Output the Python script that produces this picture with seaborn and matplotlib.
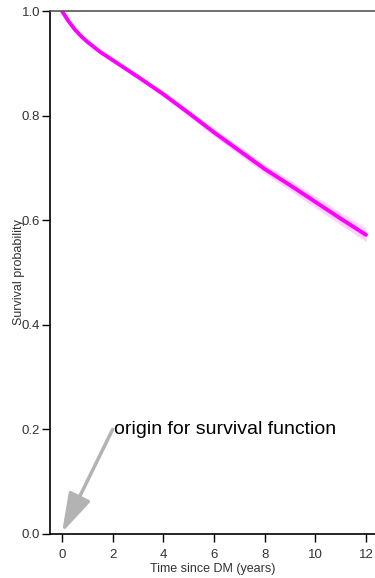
import numpy as np
import pandas as pd
import seaborn as sns
import matplotlib
matplotlib.use("Agg")
import matplotlib.pyplot as plt

# Estimated survival curve since diabetes diagnosis
time_years = [0, 0.25, 0.5, 0.75, 1, 1.5, 2, 3, 4, 5, 6, 7, 8, 9, 10, 11, 12]
survival = [1.0, 0.981, 0.965, 0.952, 0.941, 0.922, 0.906, 0.874, 0.841,
            0.805, 0.768, 0.733, 0.698, 0.667, 0.635, 0.603, 0.572]
ci_lower = [1.0, 0.980, 0.963, 0.950, 0.939, 0.919, 0.903, 0.870, 0.836,
            0.799, 0.761, 0.725, 0.689, 0.657, 0.624, 0.591, 0.559]
ci_upper = [1.0, 0.982, 0.967, 0.954, 0.943, 0.925, 0.909, 0.878, 0.846,
            0.811, 0.775, 0.741, 0.707, 0.677, 0.646, 0.615, 0.585]

x_ticks = [0, 2, 4, 6, 8, 10, 12]
y_ticks = [0.0, 0.2, 0.4, 0.6, 0.8, 1.0]

df = pd.DataFrame({"time": time_years, "surv": survival,
                   "lo": ci_lower, "hi": ci_upper})

sns.set_theme(style="ticks")
plt.rcParams["font.family"] = ["Liberation Sans", "DejaVu Sans"]

fig = plt.figure(figsize=(3.75, 5.78), dpi=100)
ax = fig.add_axes([50 / 375, 44 / 578, 325 / 375, 523 / 578])

ax.fill_between(df["time"], df["lo"], df["hi"], color="#ff00ff",
                alpha=0.18, linewidth=0)
sns.lineplot(data=df, x="time", y="surv", ax=ax, color="#ff00ff",
             linewidth=2.8, errorbar=None)

ax.set_xlim(-0.474, 12.355)
ax.set_ylim(0, 1)
ax.set_xticks(x_ticks)
ax.set_xticklabels([str(t) for t in x_ticks])
ax.set_yticks(y_ticks)
ax.set_yticklabels([f"{t:.1f}" for t in y_ticks])
ax.tick_params(axis="both", direction="out", length=6, width=1,
               labelsize=9.5, colors="black", pad=1)
ax.tick_params(axis="y", labelcolor="#333333")
ax.tick_params(axis="x", labelcolor="#333333", pad=5)

for side in ("left", "bottom"):
    ax.spines[side].set_color("black")
    ax.spines[side].set_linewidth(1.2)
ax.spines["right"].set_visible(False)
ax.spines["top"].set_visible(True)
ax.spines["top"].set_color("#555555")
ax.spines["top"].set_linewidth(1.2)

ax.set_xlabel("Time since DM (years)", fontsize=9, color="#333333", labelpad=1)
ax.set_ylabel("Survival probability", fontsize=9, color="#333333", labelpad=-2)

# Pointer from the note down to the origin of the curve
ax.annotate("", xy=(0, 0.003), xytext=(2.0, 0.2),
            arrowprops=dict(arrowstyle="-|>,head_width=0.6,head_length=2.0",
                            color="#b3b3b3", lw=2.5, shrinkA=0, shrinkB=0))
ax.text(2.05, 0.2, "origin for survival function", fontsize=14,
        color="black", va="center", ha="left")

fig.savefig("out.png", dpi=100)
